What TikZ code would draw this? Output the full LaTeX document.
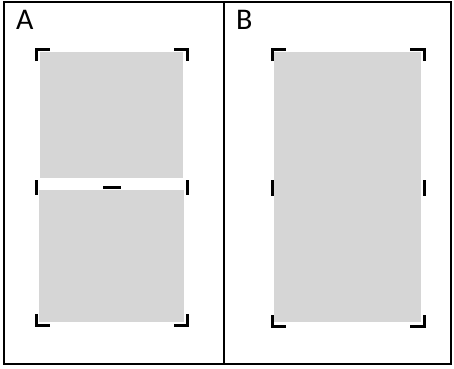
\documentclass[tikz,border=0pt]{standalone}
\usepackage{fontspec}
\setmainfont{Carlito}
\usepackage{tikz}
\usetikzlibrary{calc}
\definecolor{shade}{RGB}{214,214,214}
\tikzset{
  frame/.style={draw=black, line width=1.6pt},
  area/.style={fill=shade},
  crop/.style={draw=black, line width=3pt, line cap=butt},
  plabel/.style={font=\fontsize{30}{30}\selectfont, anchor=base west, inner sep=0pt}
}
\begin{document}
\begin{tikzpicture}[x=1pt, y=-1pt]
    \useasboundingbox (0,0) rectangle (454,368);
    \draw[frame] (4,2) rectangle (451,364);
    \draw[frame] (224,2) -- (224,364);
    \node[plabel] (labA) at (16,29) {A};
    \node[plabel] (labB) at (236,29) {B};

    % A: two halves
    \fill[area] (40,52) rectangle (183,178);
    \fill[area] (39,190) rectangle (184,322);
    \draw[crop] (36,61) -- (36,49.5) -- (50,49.5);
    \draw[crop] (174,49.5) -- (187.5,49.5) -- (187.5,61);
    \draw[crop] (36,180) -- (36,195);
    \draw[crop] (187.5,180) -- (187.5,195);
    \draw[crop] (103,187) -- (121,187);
    \draw[crop] (36,314) -- (36,325.5) -- (50,325.5);
    \draw[crop] (174,325.5) -- (187.5,325.5) -- (187.5,314);

    % B: one block
    \fill[area] (274,52) rectangle (421,322);
    \draw[crop] (272,61) -- (272,49.5) -- (286,49.5);
    \draw[crop] (410,49.5) -- (424,49.5) -- (424,61);
    \draw[crop] (272,180) -- (272,196);
    \draw[crop] (424,180) -- (424,196);
    \draw[crop] (272,315) -- (272,326.5) -- (286,326.5);
    \draw[crop] (410,326.5) -- (424,326.5) -- (424,315);
\end{tikzpicture}
\end{document}
